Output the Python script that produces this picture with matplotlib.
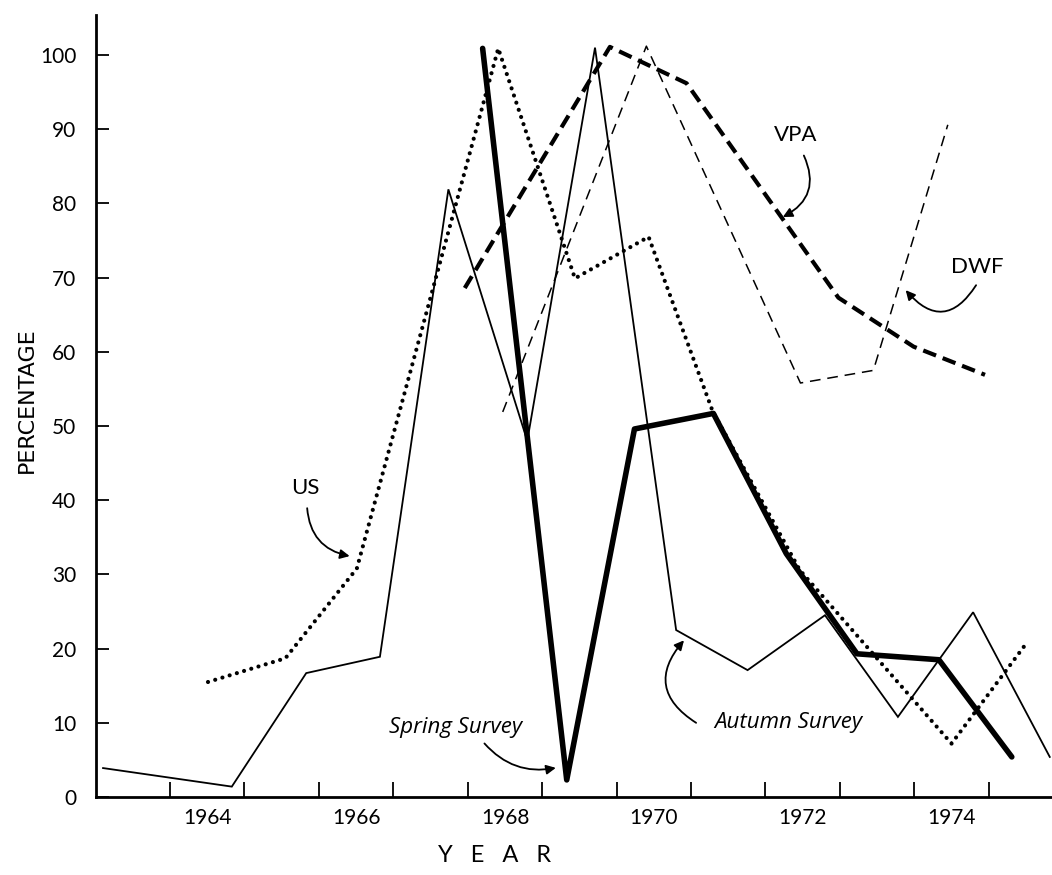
import numpy as np
import matplotlib.pyplot as plt

# values: (fractional year, percentage)
autumn_year = [1963.10, 1964.83, 1965.83, 1966.82, 1967.74, 1968.80, 1969.71,
               1970.80, 1971.76, 1972.80, 1973.78, 1974.79, 1975.82]
autumn_pct = [3.9, 1.4, 16.7, 18.9, 81.9, 48.0, 101.0, 22.5, 17.1, 24.5, 10.8, 24.9, 5.4]

spring_year = [1968.20, 1969.33, 1970.24, 1971.30, 1972.28, 1973.23, 1974.33, 1975.31]
spring_pct = [100.9, 2.3, 49.6, 51.7, 32.8, 19.3, 18.5, 5.4]

us_year = [1964.51, 1965.55, 1966.51, 1968.41, 1969.44, 1970.43, 1971.29,
           1972.46, 1974.50, 1975.49]
us_pct = [15.5, 18.7, 30.8, 100.9, 69.9, 75.5, 52.0, 30.6, 7.2, 20.5]

vpa_year = [1967.96, 1969.91, 1970.94, 1972.98, 1973.99, 1974.95]
vpa_pct = [68.6, 101.1, 96.2, 67.3, 60.7, 56.9]

dwf_year = [1968.47, 1970.40, 1972.47, 1973.45, 1974.45]
dwf_pct = [51.9, 101.2, 55.8, 57.5, 90.6]

year_ticks = list(range(1964, 1976))
year_labels = ["1964", "1966", "1968", "1970", "1972", "1974"]
pct_ticks = list(range(0, 101, 10))

plt.rcParams['font.family'] = ['Lato', 'DejaVu Sans']

fig = plt.figure(figsize=(10.52, 8.75), dpi=100)
ax = fig.add_axes([95.6 / 1052, 78 / 875, 1 - 95.6 / 1052, 782 / 875])

ax.plot(autumn_year, autumn_pct, color='black', lw=1.3, solid_joinstyle='miter')
ax.plot(spring_year, spring_pct, color='black', lw=4.0, solid_capstyle='round',
        solid_joinstyle='round')
ax.plot(us_year, us_pct, color='black', lw=3.0, linestyle=(0, (0.01, 1.8)),
        dash_capstyle='round')
ax.plot(vpa_year, vpa_pct, color='black', lw=3.0, linestyle=(0, (3.3, 1.7)))
ax.plot(dwf_year, dwf_pct, color='black', lw=1.1, linestyle=(0, (7, 4.5)))

ax.set_xlim(1963, 1975.85)
ax.set_ylim(0, 105.4)

for side in ['top', 'right']:
    ax.spines[side].set_visible(False)
for side in ['left', 'bottom']:
    ax.spines[side].set_linewidth(2.0)

ax.set_xticks(year_ticks)
ax.set_xticklabels([])
ax.set_xticks([int(y) + 0.5 for y in year_labels], minor=True)
ax.set_xticklabels(year_labels, minor=True, fontsize=15)
ax.tick_params(axis='x', which='major', direction='in', length=11, width=1.3)
ax.tick_params(axis='x', which='minor', length=0, pad=8)

ax.set_yticks(pct_ticks)
ax.set_yticklabels([str(p) for p in pct_ticks], fontsize=15)
ax.tick_params(axis='y', direction='in', length=9, width=1.3, pad=14)

fig.text(27 / 1052, 1 - 400 / 875, "PERCENTAGE", rotation=90, fontsize=16,
         ha='center', va='center', family=['Liberation Sans Narrow', 'DejaVu Sans'])
fig.text(495 / 1052, 1 - 855 / 875, "Y   E   A   R", fontsize=17, ha='center', va='center')

arrow = dict(arrowstyle='-|>', color='black', lw=1.3, mutation_scale=14)

ax.text(1965.82, 41.6, "US", fontsize=16, ha='center', va='center')
ax.annotate("", xy=(1966.45, 32.4), xytext=(1965.84, 39.3),
            arrowprops=dict(arrow, connectionstyle="arc3,rad=0.4"))

ax.text(1972.4, 89.2, "VPA", fontsize=16, ha='center', va='center')
ax.annotate("", xy=(1972.2, 78.0), xytext=(1972.5, 86.8),
            arrowprops=dict(arrow, connectionstyle="arc3,rad=-0.5"))

ax.text(1974.85, 71.5, "DWF", fontsize=16, ha='center', va='center')
ax.annotate("", xy=(1973.86, 68.6), xytext=(1974.85, 69.3),
            arrowprops=dict(arrow, connectionstyle="arc3,rad=-0.7"))

ax.text(1967.83, 9.3, "Spring Survey", fontsize=16, style='italic',
        ha='center', va='center', family=['Open Sans', 'DejaVu Sans'])
ax.annotate("", xy=(1969.22, 4.0), xytext=(1968.2, 7.5),
            arrowprops=dict(arrow, connectionstyle="arc3,rad=0.3"))

ax.text(1972.31, 10.0, "Autumn Survey", fontsize=16, style='italic',
        ha='center', va='center', family=['Open Sans', 'DejaVu Sans'])
ax.annotate("", xy=(1970.93, 21.4), xytext=(1971.1, 9.8),
            arrowprops=dict(arrow, connectionstyle="arc3,rad=-0.6"))

fig.savefig("out.png", dpi=100)
